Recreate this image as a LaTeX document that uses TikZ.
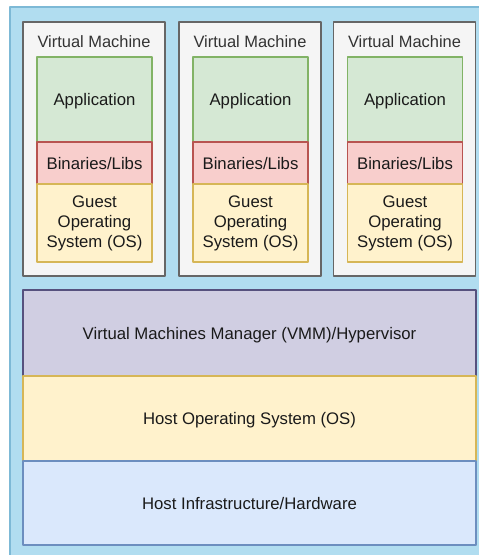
\documentclass[tikz,border=0pt]{standalone}
\usepackage{fontspec}
\setmainfont{Liberation Sans}
\definecolor{skyfill}{HTML}{B1DDF0}
\definecolor{skyline}{HTML}{7DB9D6}
\definecolor{vmfill}{HTML}{F5F5F5}
\definecolor{vmline}{HTML}{666666}
\definecolor{appfill}{HTML}{D5E8D4}
\definecolor{appline}{HTML}{82B366}
\definecolor{binfill}{HTML}{F8CECC}
\definecolor{binline}{HTML}{B85450}
\definecolor{osfill}{HTML}{FFF2CC}
\definecolor{osline}{HTML}{D6B656}
\definecolor{vmmfill}{HTML}{D0CEE2}
\definecolor{vmmline}{HTML}{56517E}
\definecolor{hwfill}{HTML}{DAE8FC}
\definecolor{hwline}{HTML}{6C8EBF}
\definecolor{labelgrey}{HTML}{333333}
\definecolor{textblack}{HTML}{1A1A1A}
\tikzset{
  layer/.style={rectangle,inner sep=0pt,outer sep=0pt,line width=1.2bp,align=center,
    text=textblack,font=\fontsize{16.8}{20}\selectfont},
  vmbox/.style={layer,draw=vmline,fill=vmfill,minimum width=142bp,minimum height=254bp},
  vmlabel/.style={inner sep=0pt,text=labelgrey,font=\fontsize{16.5}{20}\selectfont},
  appbox/.style={layer,text depth=0pt,draw=appline,fill=appfill,minimum width=115bp,minimum height=85bp},
  binbox/.style={layer,text depth=0pt,draw=binline,fill=binfill,minimum width=115bp,minimum height=42bp},
  guestbox/.style={layer,draw=osline,fill=osfill,minimum width=115bp,minimum height=78bp},
  hostbox/.style={layer,text depth=0pt,minimum width=453bp},
}
\begin{document}
\begin{tikzpicture}[line join=bevel]
\useasboundingbox (0bp,0bp) rectangle (479bp,555bp);
\clip (0bp,0bp) rectangle (479bp,555bp);
%%
  % Node: board
  \node [rectangle,draw=skyline,fill=skyfill,line width=1.2bp,inner sep=0pt,
    minimum width=480bp,minimum height=560bp] (board) at (250.0bp,268.0bp) {};
  % Node: vm1
  \node [vmbox] (vm1) at (94.0bp,406.0bp) {};
  \node [vmlabel] (vm1name) at (94.0bp,513.0bp) {Virtual Machine};
  \node [appbox] (app1) at (94.5bp,455.5bp) {Application};
  \node [binbox] (bin1) at (94.5bp,392.0bp) {Binaries/Libs};
  \node [guestbox] (guest1) at (94.5bp,332.0bp) {Guest\\Operating\\System (OS)};
  % Node: vm2
  \node [vmbox] (vm2) at (250.0bp,406.0bp) {};
  \node [vmlabel] (vm2name) at (250.0bp,513.0bp) {Virtual Machine};
  \node [appbox] (app2) at (250.5bp,455.5bp) {Application};
  \node [binbox] (bin2) at (250.5bp,392.0bp) {Binaries/Libs};
  \node [guestbox] (guest2) at (250.5bp,332.0bp) {Guest\\Operating\\System (OS)};
  % Node: vm3
  \node [vmbox] (vm3) at (404.5bp,406.0bp) {};
  \node [vmlabel] (vm3name) at (404.5bp,513.0bp) {Virtual Machine};
  \node [appbox] (app3) at (405.0bp,455.5bp) {Application};
  \node [binbox] (bin3) at (405.0bp,392.0bp) {Binaries/Libs};
  \node [guestbox] (guest3) at (405.0bp,332.0bp) {Guest\\Operating\\System (OS)};
  % Node: vmm
  \node [hostbox,draw=vmmline,fill=vmmfill,minimum height=86bp] (vmm) at (249.5bp,222.0bp)
    {Virtual Machines Manager (VMM)/Hypervisor};
  % Node: hostos
  \node [hostbox,draw=osline,fill=osfill,minimum height=85bp] (hostos) at (249.5bp,136.5bp)
    {Host Operating System (OS)};
  % Node: hardware
  \node [hostbox,draw=hwline,fill=hwfill,minimum height=84bp] (hardware) at (249.5bp,52.0bp)
    {Host Infrastructure/Hardware};
%
\end{tikzpicture}
\end{document}
